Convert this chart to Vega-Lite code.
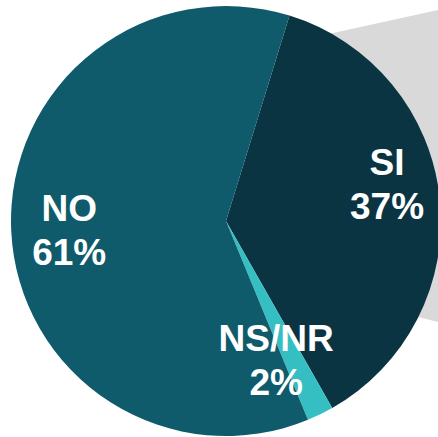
{
  "$schema": "https://vega.github.io/schema/vega-lite/v6.json",
  "width": 400,
  "height": 400,
  "autosize": "none",
  "padding": {"left": 26, "top": 21, "right": 12, "bottom": 16},
  "background": "white",
  "config": {"view": {"stroke": null}},
  "datasets": {
    "pie": [
      {"cat": "SI", "pct": 37, "k": 1, "label": "SI\n37%"},
      {"cat": "NS/NR", "pct": 2, "k": 2, "label": "NS/NR\n2%"},
      {"cat": "NO", "pct": 61, "k": 3, "label": "NO\n61%"}
    ],
    "band": [
      {"gx": 300, "gy": 40.2, "gy2": 287.5},
      {"gx": 450, "gy": 7.4, "gy2": 325}
    ]
  },
  "layer": [
    {
      "data": {"name": "band"},
      "mark": {"type": "area", "color": "#d9d9d9", "clip": false},
      "encoding": {
        "x": {"field": "gx", "type": "quantitative", "scale": {"domain": [26, 426], "nice": false, "zero": false}, "axis": null},
        "y": {"field": "gy", "type": "quantitative", "scale": {"domain": [21, 421], "nice": false, "zero": false, "reverse": true}, "axis": null},
        "y2": {"field": "gy2"}
      }
    },
    {
      "data": {"name": "pie"},
      "layer": [
        {
          "mark": {"type": "arc", "outerRadius": 215},
          "encoding": {
            "theta": {"field": "pct", "type": "quantitative", "stack": true, "scale": {"range": [0.3, 6.5832]}},
            "order": {"field": "k", "type": "quantitative"},
            "color": {"field": "cat", "type": "nominal", "legend": null,
              "scale": {"domain": ["SI", "NS/NR", "NO"], "range": ["#0b3442", "#36bfc2", "#0f5b6c"]}}
          }
        },
        {
          "mark": {"type": "text", "radius": 160, "dx": 2, "dy": -40, "font": "Liberation Sans", "fontWeight": "bold", "fontSize": 37, "lineHeight": 44, "lineBreak": "\n", "color": "white", "align": "center", "baseline": "middle"},
          "encoding": {
            "theta": {"field": "pct", "type": "quantitative", "stack": true, "scale": {"range": [0.3, 6.5832]}},
            "order": {"field": "k", "type": "quantitative"},
            "text": {"condition": {"test": "datum.cat === 'SI'", "field": "label"}, "value": ""}
          }
        },
        {
          "mark": {"type": "text", "radius": 160, "dx": -20, "dy": -25, "font": "Liberation Sans", "fontWeight": "bold", "fontSize": 37, "lineHeight": 44, "lineBreak": "\n", "color": "white", "align": "center", "baseline": "middle"},
          "encoding": {
            "theta": {"field": "pct", "type": "quantitative", "stack": true, "scale": {"range": [0.3, 6.5832]}},
            "order": {"field": "k", "type": "quantitative"},
            "text": {"condition": {"test": "datum.cat === 'NS/NR'", "field": "label"}, "value": ""}
          }
        },
        {
          "mark": {"type": "text", "radius": 160, "dx": 3, "dy": -18, "font": "Liberation Sans", "fontWeight": "bold", "fontSize": 37, "lineHeight": 44, "lineBreak": "\n", "color": "white", "align": "center", "baseline": "middle"},
          "encoding": {
            "theta": {"field": "pct", "type": "quantitative", "stack": true, "scale": {"range": [0.3, 6.5832]}},
            "order": {"field": "k", "type": "quantitative"},
            "text": {"condition": {"test": "datum.cat === 'NO'", "field": "label"}, "value": ""}
          }
        }
      ]
    }
  ]
}
